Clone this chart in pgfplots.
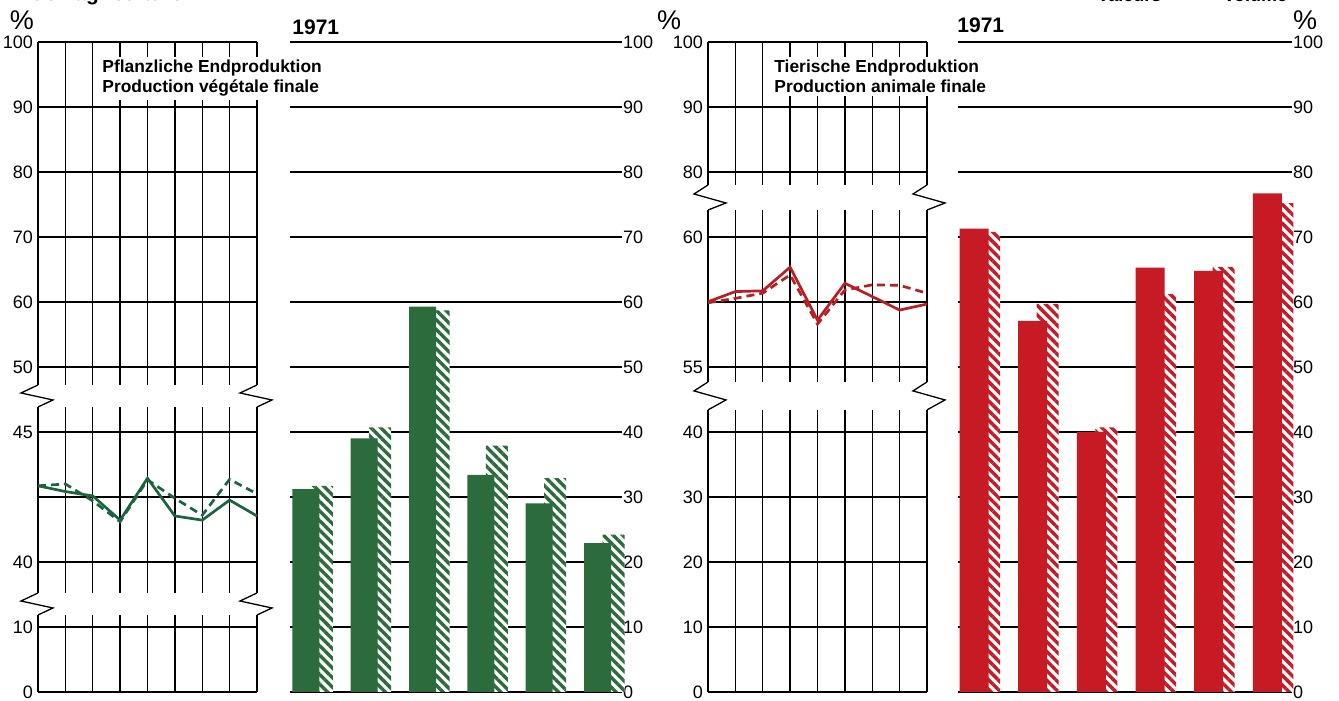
\documentclass[border=0pt]{standalone}
\usepackage{fontspec}
\setmainfont{Liberation Sans}
\usepackage{pgfplots}
\pgfplotsset{compat=1.18}
\usetikzlibrary{patterns.meta}
\definecolor{gline}{RGB}{28,100,62}
\definecolor{gbar}{RGB}{44,108,60}
\definecolor{rline}{RGB}{184,30,38}
\definecolor{rbar}{RGB}{198,26,36}

% line panels: data
\pgfplotstableread{
x  val   vol
0  42.93 42.93
1  42.71 43.00
2  42.54 42.35
3  41.61 41.55
4  43.22 43.16
5  41.77 42.45
6  41.61 41.80
7  42.38 43.18
8  41.77 42.62
}\vegline
\pgfplotstableread{
x  val   vol
0  57.51 57.47
1  57.90 57.64
2  57.93 57.84
3  58.84 58.54
4  56.80 56.65
5  58.22 57.96
6  57.71 58.16
7  57.19 58.14
8  57.42 57.84
}\aniline
% bar panels (1971)
\pgfplotstableread{
x  val  vol
1  31.2 31.7
2  39.0 40.7
3  59.3 58.7
4  33.4 37.9
5  29.0 32.9
6  22.9 24.2
}\vegbar
\pgfplotstableread{
x  val  vol
1  71.3 70.8
2  57.1 59.7
3  40.0 40.7
4  65.3 61.2
5  64.8 65.4
6  76.7 75.2
}\anibar

\tikzset{brk/.style={line width=0.65pt, black}}
\pgfplotsset{
  base/.style={scale only axis, clip=false, anchor=south west,
    axis line style={draw=none}, major tick length=0pt,
    tick style={draw=none}, grid style={black, line width=0.65pt},
    height=325pt,
    ticklabel style={font=\fontsize{9}{10}\selectfont},
    /pgf/number format/assume math mode=true},
  linepanel/.style={base, width=109.5pt, xmin=0, xmax=8, ymin=0, ymax=10,
    xtick={0,...,8}, xticklabels={}, ytick={0,...,10},
    xmajorgrids, ymajorgrids,
    yticklabel style={xshift=1pt}},
  barpanel/.style={base, ymin=0, ymax=100, xmin=0.727, xmax=6.42,
    xtick=\empty, ytick={0,10,...,100}, ymajorgrids,
    yticklabel pos=right, yticklabel style={xshift=-3pt}},
}

\begin{document}
\begin{tikzpicture}
\useasboundingbox (0,0) rectangle (669.5pt,350.5pt);

% ---------- Panel 1: vegetable production, lines
\begin{axis}[linepanel, at={(19pt,4.5pt)},
  yticklabels={0,10,40,{},45,50,60,70,80,90,100}]
  \fill[white] (axis cs:-0.1,4.385) rectangle (axis cs:8.1,4.723);
  \fill[white] (axis cs:-0.1,1.185) rectangle (axis cs:8.1,1.523);
  \draw[brk] (axis cs:0,4.723) -- ++(-8.5pt,-4pt) -- ++(16pt,-3.5pt) -- (axis cs:0,4.385);
  \draw[brk] (axis cs:0,1.523) -- ++(-8.5pt,-4pt) -- ++(16pt,-3.5pt) -- (axis cs:0,1.185);
  \draw[brk] (axis cs:8,4.723) -- ++(-8.5pt,-4pt) -- ++(16pt,-3.5pt) -- (axis cs:8,4.385);
  \draw[brk] (axis cs:8,1.523) -- ++(-8.5pt,-4pt) -- ++(16pt,-3.5pt) -- (axis cs:8,1.185);
  \addplot[gline, line width=1.35pt, y filter/.expression={2+(y-40)/2.5}] table[x=x,y=val] {\vegline};
  \addplot[gline, line width=1.35pt, dash pattern=on 4pt off 2.5pt, y filter/.expression={2+(y-40)/2.5}] table[x=x,y=vol] {\vegline};
\end{axis}

% ---------- Panel 2: vegetable 1971 bars
\begin{axis}[barpanel, at={(145pt,4.5pt)}, width=166pt]
  \addplot[ybar, bar width=11pt, bar shift=8pt, draw=none, fill=white,
    postaction={pattern={Lines[angle=-45,distance=3.4pt,line width=1.7pt]}, pattern color=gbar}]
    table[x=x,y=vol] {\vegbar};
  \addplot[ybar, bar width=13.5pt, bar shift=0pt, draw=none, fill=gbar]
    table[x=x,y=val] {\vegbar};
\end{axis}

% ---------- Panel 3: animal production, lines
\begin{axis}[linepanel, at={(354pt,4.5pt)},
  yticklabels={0,10,20,30,40,55,{},60,80,90,100}]
  \fill[white] (axis cs:-0.1,7.415) rectangle (axis cs:8.1,7.8);
  \fill[white] (axis cs:-0.1,4.34) rectangle (axis cs:8.1,4.77);
  \draw[brk] (axis cs:0,7.8) -- ++(-7pt,-4.5pt) -- ++(16pt,-4.5pt) -- (axis cs:0,7.415);
  \draw[brk] (axis cs:0,4.77) -- ++(-7pt,-4.5pt) -- ++(16pt,-4.5pt) -- (axis cs:0,4.34);
  \draw[brk] (axis cs:8,7.8) -- ++(-7pt,-4.5pt) -- ++(16pt,-4.5pt) -- (axis cs:8,7.415);
  \draw[brk] (axis cs:8,4.77) -- ++(-7pt,-4.5pt) -- ++(16pt,-4.5pt) -- (axis cs:8,4.34);
  \addplot[rline, line width=1.35pt, y filter/.expression={5+(y-55)/2.5}] table[x=x,y=val] {\aniline};
  \addplot[rline, line width=1.35pt, dash pattern=on 4pt off 2.5pt, y filter/.expression={5+(y-55)/2.5}] table[x=x,y=vol] {\aniline};
\end{axis}

% ---------- Panel 4: animal 1971 bars
\begin{axis}[barpanel, at={(479pt,4.5pt)}, width=167pt]
  \addplot[ybar, bar width=11pt, bar shift=7.5pt, draw=none, fill=white,
    postaction={pattern={Lines[angle=-45,distance=3.4pt,line width=1.7pt]}, pattern color=rbar}]
    table[x=x,y=vol] {\anibar};
  \addplot[ybar, bar width=14.5pt, bar shift=0pt, draw=none, fill=rbar]
    table[x=x,y=val] {\anibar};
\end{axis}

% ---------- texts
\node[anchor=north west, fill=white, inner xsep=2pt, inner ysep=1.5pt, align=left,
  font=\bfseries\fontsize{8.7}{10}\selectfont] at (49pt,322pt)
  {Pflanzliche Endproduktion\\Production végétale finale};
\node[anchor=north west, fill=white, inner xsep=2pt, inner ysep=1.5pt, align=left,
  font=\bfseries\fontsize{8.7}{10}\selectfont] at (385pt,322pt)
  {Tierische Endproduktion\\Production animale finale};

\node[font=\fontsize{13.5}{14}\selectfont, inner sep=0pt] at (11pt,340.5pt) {\%};
\node[font=\fontsize{13.5}{14}\selectfont, inner sep=0pt] at (334.5pt,340.5pt) {\%};
\node[font=\fontsize{13.5}{14}\selectfont, inner sep=0pt] at (652.5pt,340.5pt) {\%};

\node[anchor=base west, inner sep=0pt, font=\bfseries\fontsize{10.5}{12}\selectfont] at (146pt,333pt) {1971};
\node[anchor=base west, inner sep=0pt, font=\bfseries\fontsize{10.5}{12}\selectfont] at (478.5pt,334pt) {1971};

\node[anchor=base west, inner sep=0pt, font=\bfseries\fontsize{9}{10}\selectfont] at (548.5pt,349.5pt) {Valeurs};
\node[anchor=base west, inner sep=0pt, font=\bfseries\fontsize{9}{10}\selectfont] at (611.5pt,349.5pt) {Volume};
\node[anchor=base west, inner sep=0pt, font=\bfseries\fontsize{10.5}{11}\selectfont] at (16pt,350pt) {de l'agriculture};
\end{tikzpicture}
\end{document}
